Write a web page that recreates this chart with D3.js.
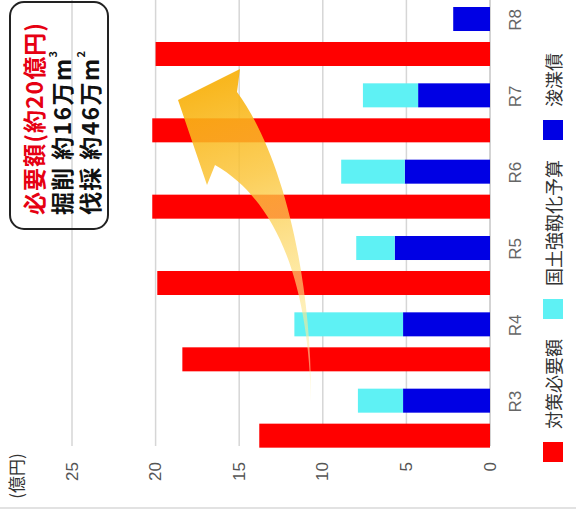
<!DOCTYPE html>
<html>
<head>
<meta charset="utf-8">
<script src="https://cdn.jsdelivr.net/npm/d3@7"></script>
<style>
  html, body { margin: 0; padding: 0; background: #fff; }
  svg { display: block; }
  text { font-family: "Liberation Sans", "Noto Sans CJK JP", sans-serif; }
  .jp { font-family: "Noto Sans CJK JP", "Noto Sans", sans-serif; }
</style>
</head>
<body>
<svg id="chart" width="576" height="511"></svg>
<script>
// Fiscal years (令和3〜8年度)
const categories = ["R3", "R4", "R5", "R6", "R7", "R8"];
// 対策必要額 (億円)
const requiredCost = [13.8, 18.4, 19.9, 20.2, 20.2, 20.0];
// 国土強靱化予算 (億円)
const resilienceBudget = [2.7, 6.5, 2.3, 3.8, 3.3, 0];
// 浚渫債 (億円)
const dredgingBonds = [5.2, 5.2, 5.7, 5.1, 4.3, 2.2];
// value axis ticks
const valueTicks = [0, 5, 10, 15, 20, 25];
const seriesNames = ["対策必要額", "国土強靱化予算", "浚渫債"];
const seriesColors = ["#ff0000", "#5ef1f4", "#0000e4"];

const svg = d3.select("#chart");
const W = 576, H = 511;

// The chart is laid out turned a quarter turn: values grow to the left,
// fiscal years run from bottom (R3) to top (R8).
const x = d3.scaleLinear().domain([0, 25]).range([490, 72]);
const y = d3.scaleBand().domain(categories).range([457, -1]);
const sub = d3.scaleBand().domain(["stack", "cost"])
  .range([8, 67]).paddingInner(0.314).paddingOuter(0);

const rows = categories.map((c, i) => ({
  cat: c,
  cost: requiredCost[i],
  budget: resilienceBudget[i],
  bonds: dredgingBonds[i]
}));

// gridlines
svg.append("g").selectAll("line")
  .data(valueTicks)
  .join("line")
  .attr("x1", d => x(d)).attr("x2", d => x(d))
  .attr("y1", 0).attr("y2", 446)
  .attr("stroke", d => d === 0 ? "#c4c4c4" : "#d6d6d6")
  .attr("stroke-width", 1.5);

// faint bottom rule
svg.append("line")
  .attr("x1", 0).attr("x2", W).attr("y1", 508).attr("y2", 508)
  .attr("stroke", "#e2e2e2").attr("stroke-width", 2);

const bars = svg.append("g");

// 対策必要額 bars
bars.selectAll("rect.cost")
  .data(rows.filter(d => d.cost > 0))
  .join("rect")
  .attr("class", "cost")
  .attr("x", d => x(d.cost))
  .attr("width", d => x(0) - x(d.cost))
  .attr("y", d => y(d.cat) + sub("cost"))
  .attr("height", sub.bandwidth())
  .attr("fill", seriesColors[0]);

// stacked funding: 浚渫債 from zero, 国土強靱化予算 on top of it
const stack = d3.stack().keys(["bonds", "budget"])(rows);
const stackColor = { bonds: seriesColors[2], budget: seriesColors[1] };
stack.forEach(layer => {
  bars.append("g").selectAll("rect")
    .data(layer.filter(s => s[1] - s[0] > 0))
    .join("rect")
    .attr("x", s => x(s[1]))
    .attr("width", s => x(s[0]) - x(s[1]))
    .attr("y", s => y(s.data.cat) + sub("stack"))
    .attr("height", sub.bandwidth())
    .attr("fill", stackColor[layer.key]);
});

// curved arrow showing the rising need
const defs = svg.append("defs");
const grad = defs.append("linearGradient")
  .attr("id", "arrowFill")
  .attr("gradientUnits", "userSpaceOnUse")
  .attr("x1", 200).attr("y1", 90).attr("x2", 310).attr("y2", 400);
[[0, "#f8b10c", 0.92], [0.3, "#fbc436", 0.82], [0.65, "#fde07a", 0.65], [1, "#fff6c6", 0.5]]
  .forEach(([o, c, a]) => grad.append("stop")
    .attr("offset", o).attr("stop-color", c).attr("stop-opacity", a));

const p = d3.path();
p.moveTo(178, 100);                 // head point
p.lineTo(240, 69);                  // upper wing
p.lineTo(237, 92);
p.bezierCurveTo(280, 150, 312, 270, 311, 402);   // outer edge to the tail
p.bezierCurveTo(309, 300, 285, 205, 215, 165);   // inner edge back up
p.lineTo(207, 185);                 // lower wing
p.closePath();
svg.append("path").attr("d", p.toString()).attr("fill", "url(#arrowFill)");

// value axis labels
svg.append("g").selectAll("text")
  .data(valueTicks)
  .join("text")
  .attr("transform", d => `translate(${x(d)},462) rotate(-90)`)
  .attr("text-anchor", "end")
  .attr("dominant-baseline", "central")
  .attr("font-size", 17)
  .attr("fill", "#555")
  .text(d => d);

svg.append("text")
  .attr("class", "jp")
  .attr("transform", "translate(15,476) rotate(-90)")
  .attr("text-anchor", "middle")
  .attr("dominant-baseline", "central")
  .attr("font-size", 17)
  .attr("fill", "#333")
  .text("(億円)");

// fiscal year labels
svg.append("g").selectAll("text")
  .data(categories)
  .join("text")
  .attr("transform", c => `translate(515,${y(c) + sub("stack") + sub.bandwidth() / 2 + 1}) rotate(-90)`)
  .attr("text-anchor", "middle")
  .attr("dominant-baseline", "central")
  .attr("font-size", 17)
  .attr("fill", "#666")
  .text(c => c);

// legend, running upward from the bottom
const legend = svg.append("g");
let cursor = 462;
seriesNames.forEach((name, i) => {
  legend.append("rect")
    .attr("x", 543).attr("y", cursor - 20)
    .attr("width", 20).attr("height", 20)
    .attr("fill", seriesColors[i]);
  const t = legend.append("text")
    .attr("class", "jp")
    .attr("transform", `translate(553,${cursor - 33}) rotate(-90)`)
    .attr("text-anchor", "start")
    .attr("dominant-baseline", "central")
    .attr("font-size", 18)
    .attr("fill", "#333")
    .text(name);
  cursor = cursor - 33 - t.node().getComputedTextLength() - 20;
});

// annotation box
svg.append("rect")
  .attr("x", 10).attr("y", 2).attr("width", 98).attr("height", 227)
  .attr("rx", 14).attr("ry", 14)
  .attr("fill", "none").attr("stroke", "#222").attr("stroke-width", 2);

const note = svg.append("g").attr("class", "jp")
  .attr("font-size", 23).attr("font-weight", "bold");
note.append("text")
  .attr("class", "jp")
  .attr("transform", "translate(33,215) rotate(-90)")
  .attr("dominant-baseline", "central")
  .attr("fill", "#e60012")
  .attr("textLength", 192).attr("lengthAdjust", "spacing")
  .text("必要額(約20億円)");
const l2 = note.append("text")
  .attr("class", "jp")
  .attr("transform", "translate(61,215) rotate(-90)")
  .attr("dominant-baseline", "central")
  .attr("fill", "#111")
  .attr("textLength", 164).attr("lengthAdjust", "spacing")
  .text("掘削 約16万m");
l2.append("tspan").attr("font-size", 11).attr("dy", -9).text("3");
const l3 = note.append("text")
  .attr("class", "jp")
  .attr("transform", "translate(89,215) rotate(-90)")
  .attr("dominant-baseline", "central")
  .attr("fill", "#111")
  .attr("textLength", 164).attr("lengthAdjust", "spacing")
  .text("伐採 約46万m");
l3.append("tspan").attr("font-size", 11).attr("dy", -9).text("2");
</script>
</body>
</html>
